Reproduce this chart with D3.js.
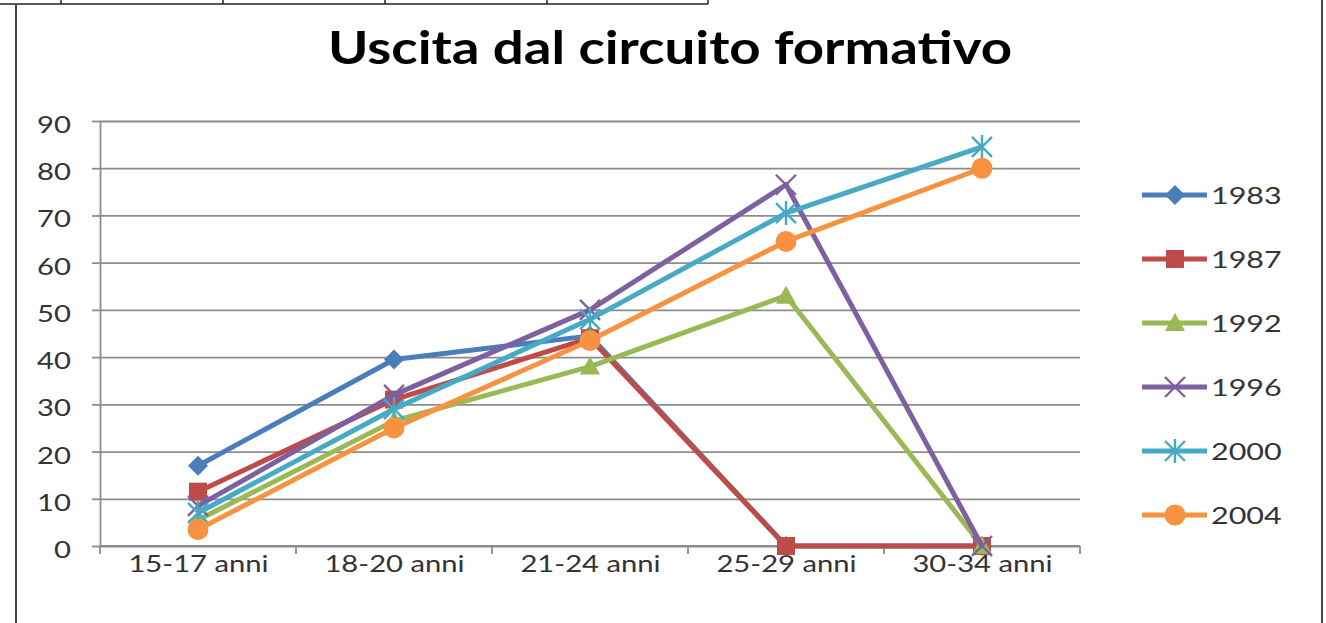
<!DOCTYPE html>
<html>
<head>
<meta charset="utf-8">
<script src="https://cdnjs.cloudflare.com/ajax/libs/d3/7.8.5/d3.min.js"></script>
<style>
  body { margin: 0; background: #fff; }
  text { font-family: Lato, "Open Sans", sans-serif; fill: #262626; }
</style>
</head>
<body>
<div id="chart"></div>
<script>
// chart data
var categories = ["15-17 anni", "18-20 anni", "21-24 anni", "25-29 anni", "30-34 anni"];
var years = ["1983", "1987", "1992", "1996", "2000", "2004"];
var v1983 = [17, 39.5, 44.5, 0, 0];
var v1987 = [11.5, 31, 44, 0, 0];
var v1992 = [5.5, 26.5, 38, 53, 0];
var v1996 = [8.5, 32, 50, 76.5, 0];
var v2000 = [7, 29, 48, 70.5, 84.5];
var v2004 = [3.5, 25, 43.5, 64.5, 80];
var yTicks = [0, 10, 20, 30, 40, 50, 60, 70, 80, 90];

var seriesValues = [v1983, v1987, v1992, v1996, v2000, v2004];
var colors = ["#4a7ebb", "#be4b48", "#98b954", "#7d60a0", "#46aac5", "#f69240"];
var shapes = ["diamond", "square", "triangle", "x", "star", "circle"];

var W = 1326, H = 623;
var plot = {left: 100, right: 1080, top: 121, bottom: 546};
var stretchK = 1.27;

// text in the picture is horizontally stretched
function stretch(sel, k) {
  sel.each(function() {
    var w = this.getComputedTextLength();
    d3.select(this).attr("textLength", w * k).attr("lengthAdjust", "spacingAndGlyphs");
  });
}

var svg = d3.select("#chart").append("svg")
    .attr("width", W)
    .attr("height", H);

// table fragment at the top and chart frame
svg.append("line").attr("x1", 0).attr("x2", 708).attr("y1", 4).attr("y2", 4)
    .style("stroke", "#222").style("stroke-width", 1.5);
[61, 223, 385, 547, 708].forEach(function(x) {
  svg.append("line").attr("x1", x).attr("x2", x).attr("y1", 0).attr("y2", 4)
      .style("stroke", "#222").style("stroke-width", 1.5);
});
svg.append("line").attr("x1", 16).attr("x2", 16).attr("y1", 4).attr("y2", H)
    .style("stroke", "#444").style("stroke-width", 2);
svg.append("line").attr("x1", 1322).attr("x2", 1322).attr("y1", 0).attr("y2", H)
    .style("stroke", "#444").style("stroke-width", 2);

// scales
var x = d3.scalePoint().domain(categories).range([plot.left, plot.right]).padding(0.5);
var xBand = d3.scaleBand().domain(categories).range([plot.left, plot.right]);
var y = d3.scaleLinear().domain([0, 90]).range([plot.bottom, plot.top]);

// grid
svg.append("g")
    .attr("class", "grid")
    .attr("transform", "translate(" + plot.left + ",0)")
    .call(d3.axisLeft(y).tickValues(yTicks).tickSize(-(plot.right - plot.left)).tickFormat(""))
    .call(function(g) { g.select(".domain").remove(); })
    .selectAll("line").style("stroke", "#8c8c8c").style("stroke-width", 1.8);

// y axis
var yAxis = svg.append("g")
    .attr("transform", "translate(" + plot.left + ",0)")
    .call(d3.axisLeft(y).tickValues(yTicks).tickSize(8).tickSizeOuter(0).tickPadding(21));
yAxis.select(".domain").style("stroke", "#8c8c8c").style("stroke-width", 1.8);
yAxis.selectAll(".tick line").style("stroke", "#8c8c8c").style("stroke-width", 1.8);
yAxis.selectAll(".tick text")
    .style("font-size", "23px").style("fill", "#333")
    .attr("dy", "0.5em")
    .call(stretch, stretchK);

// x axis
var xAxis = svg.append("g")
    .attr("transform", "translate(0," + plot.bottom + ")")
    .call(d3.axisBottom(x).tickSize(0).tickSizeOuter(0).tickPadding(10));
xAxis.select(".domain")
    .attr("d", "M" + plot.left + ",0H" + plot.right)
    .style("stroke", "#8c8c8c").style("stroke-width", 1.8);
xAxis.selectAll(".tick text")
    .style("font-size", "23px").style("fill", "#333")
    .call(stretch, stretchK);
var bounds = categories.map(function(c) { return xBand(c); }).concat([plot.right]);
xAxis.selectAll(".bound")
    .data(bounds)
  .enter().append("line")
    .attr("class", "bound")
    .attr("x1", function(d) { return d; })
    .attr("x2", function(d) { return d; })
    .attr("y1", 0).attr("y2", 8)
    .style("stroke", "#8c8c8c").style("stroke-width", 1.8);

// markers
function drawMarker(g, shape, color, cx, cy) {
  if (shape === "diamond") {
    g.append("path").attr("d", "M" + cx + "," + (cy - 10) + "L" + (cx + 10) + "," + cy + "L" + cx + "," + (cy + 10) + "L" + (cx - 10) + "," + cy + "Z")
        .style("fill", color);
  } else if (shape === "square") {
    g.append("rect").attr("x", cx - 9).attr("y", cy - 9).attr("width", 18).attr("height", 18)
        .style("fill", color);
  } else if (shape === "triangle") {
    g.append("path").attr("d", "M" + cx + "," + (cy - 10) + "L" + (cx + 10) + "," + (cy + 8) + "L" + (cx - 10) + "," + (cy + 8) + "Z")
        .style("fill", color);
  } else if (shape === "circle") {
    g.append("circle").attr("cx", cx).attr("cy", cy).attr("r", 10.5).style("fill", color);
  } else {
    var s = 10;
    var d = "M" + (cx - s) + "," + (cy - s) + "L" + (cx + s) + "," + (cy + s) +
            "M" + (cx - s) + "," + (cy + s) + "L" + (cx + s) + "," + (cy - s);
    if (shape === "star") d += "M" + cx + "," + (cy - s - 2) + "L" + cx + "," + (cy + s + 2);
    g.append("path").attr("d", d).style("fill", "none").style("stroke", color).style("stroke-width", 2.4);
  }
}

var line = d3.line()
    .x(function(d, i) { return x(categories[i]); })
    .y(function(d) { return y(d); });

seriesValues.forEach(function(vals, si) {
  var g = svg.append("g").attr("class", "series");
  g.append("path")
      .datum(vals)
      .attr("d", line)
      .style("fill", "none")
      .style("stroke", colors[si])
      .style("stroke-width", 5)
      .style("stroke-linejoin", "round");
  vals.forEach(function(v, i) {
    drawMarker(g, shapes[si], colors[si], x(categories[i]), y(v));
  });
});

// legend
var legendY = d3.scalePoint().domain(years).range([195, 515]);
years.forEach(function(yr, si) {
  var ly = legendY(yr);
  var g = svg.append("g").attr("class", "legend");
  g.append("line").attr("x1", 1142).attr("x2", 1207).attr("y1", ly).attr("y2", ly)
      .style("stroke", colors[si]).style("stroke-width", 5);
  drawMarker(g, shapes[si], colors[si], 1175, ly);
  g.append("text")
      .attr("x", 1211).attr("y", ly).attr("dy", "0.36em")
      .style("font-size", "24px").style("fill", "#333")
      .text(yr)
      .call(stretch, stretchK);
});

// title
svg.append("text")
    .attr("x", 670)
    .attr("y", 64)
    .attr("text-anchor", "middle")
    .style("font-size", "45px")
    .style("font-weight", "bold")
    .style("fill", "#000")
    .attr("textLength", 684)
    .attr("lengthAdjust", "spacingAndGlyphs")
    .text("Uscita dal circuito formativo");
</script>
</body>
</html>
